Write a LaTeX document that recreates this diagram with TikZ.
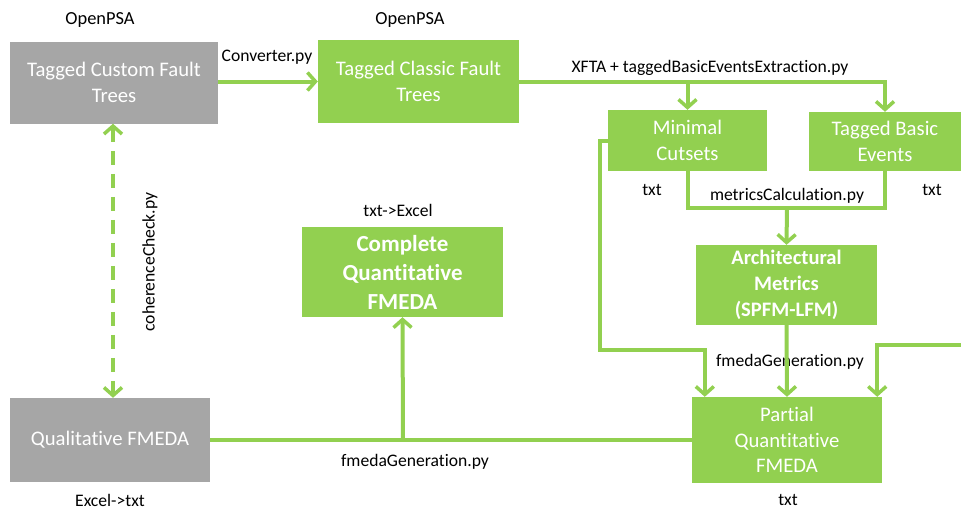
\documentclass[tikz,border=0pt]{standalone}
\usepackage{fontspec}
\setmainfont{Carlito}[Ligatures=NoCommon]
\usetikzlibrary{arrows.meta}
\definecolor{gr}{HTML}{92D050}
\definecolor{gy}{HTML}{A6A6A6}
\begin{document}
\begin{tikzpicture}[x=1pt,y=-1pt,
 box/.style={rectangle, inner sep=0pt, text=white, align=center, font=\fontsize{20.7}{25.5}\selectfont},
 gbox/.style={box, fill=gr},
 ybox/.style={box, fill=gy},
 bbox/.style={gbox, font=\fontsize{23}{29}\selectfont\bfseries},
 lbl/.style={font=\fontsize{17.6}{20}\selectfont, inner sep=0pt, text=black},
 conn/.style={draw=gr, line width=4pt},
 tip/.tip={Straight Barb[length=8pt,width=18pt,line width=3.5pt]},
 arr/.style={conn, -tip},
]
\useasboundingbox (0,0) rectangle (961,509);

% boxes
\node[ybox, minimum width=208pt, minimum height=82pt] (tcft) at (114,82.5) {Tagged Custom Fault\\Trees};
\node[gbox, minimum width=201pt, minimum height=83pt] (tcf) at (418.5,81.5) {Tagged Classic Fault\\Trees};
\node[gbox, minimum width=159pt, minimum height=61pt] (mc) at (687.5,140.5) {Minimal\\Cutsets};
\node[gbox, minimum width=152pt, minimum height=59pt] (tbe) at (885,141.5) {Tagged Basic\\Events};
\node[bbox, font=\fontsize{20.6}{26}\selectfont\bfseries, minimum width=181pt, minimum height=80pt] (am) at (786.5,285) {Architectural\\Metrics\\(SPFM-LFM)};
\node[gbox, minimum width=190pt, minimum height=86pt] (pq) at (787,440) {Partial\\Quantitative\\FMEDA};
\node[ybox, minimum width=200pt, minimum height=84pt] (qf) at (110,440) {Qualitative FMEDA};
\node[bbox, minimum width=201pt, minimum height=90pt] (cq) at (402.5,272) {Complete\\Quantitative\\FMEDA};

% labels
\node[lbl, font=\fontsize{18.4}{21}\selectfont] (l1) at (100,20) {OpenPSA};
\node[lbl, font=\fontsize{18.4}{21}\selectfont] (l2) at (410,20) {OpenPSA};
\node[lbl] (l3) at (267,57) {Converter.py};
\node[lbl] (l4) at (710,68) {XFTA + taggedBasicEventsExtraction.py};
\node[lbl] (l5) at (652,190) {txt};
\node[lbl] (l6) at (932,190) {txt};
\node[lbl] (l7) at (787,196) {metricsCalculation.py};
\node[lbl] (l8) at (398,210) {txt->Excel};
\node[lbl] (l9) at (790,362) {fmedaGeneration.py};
\node[lbl] (l10) at (415,462) {fmedaGeneration.py};
\node[lbl] (l11) at (110,500) {Excel->txt};
\node[lbl] (l12) at (788,500) {txt};
\node[lbl, rotate=90] (l13) at (150,262) {coherenceCheck.py};

% coordinates
\coordinate (mj) at (787,208);
\coordinate (c1) at (600,350);
\coordinate (r) at (961,345);
\coordinate (j3) at (403,440);

% connectors
\draw[arr] (tcft.east |- tcf.east) -- (tcf.west);
\draw[arr] (tcf.east) -| (tbe.north);
\draw[arr] (mc.north |- tcf.east) -- (mc.north);
\draw[conn] (mc.south) |- (mj) -| (tbe.south);
\draw[arr] (mj) -- (am.north);
\draw[arr] (am.south) -- (pq.north);
\draw[arr] (mc.west) -| (c1) -| ([xshift=13pt]pq.north west);
\draw[arr] (r) -| ([xshift=-5pt]pq.north east);
\draw[conn] (qf.east) -- (pq.west);
\draw[arr] (j3) -- (cq.south);
\draw[conn, tip-tip, dash pattern=on 14pt off 9pt] ([xshift=-1pt]tcft.south) -- ([xshift=-1pt]tcft.south |- qf.north);
\end{tikzpicture}
\end{document}
